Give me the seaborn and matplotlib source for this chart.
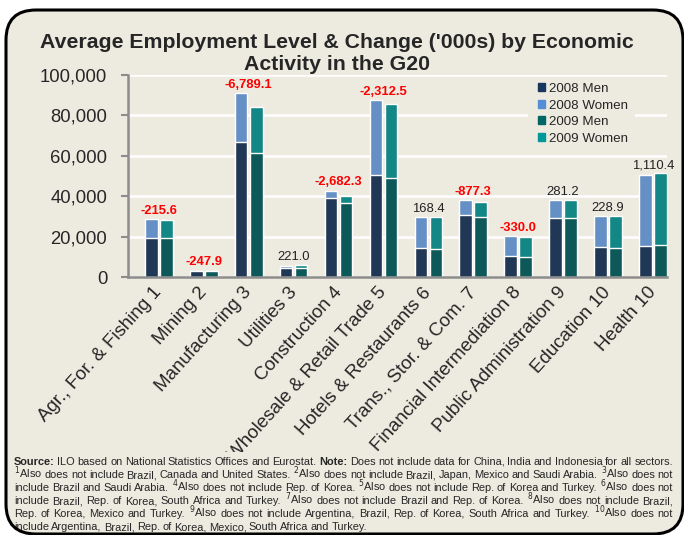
import pandas as pd
import seaborn as sns
import matplotlib.pyplot as plt
import matplotlib.transforms as mtrans
from matplotlib.patches import FancyBboxPatch, Rectangle, Patch

# employment in '000s
sectors = ["Agr., For. & Fishing 1", "Mining 2", "Manufacturing 3", "Utilities 3",
           "Construction 4", "Wholesale & Retail Trade 5", "Hotels & Restaurants 6",
           "Trans., Stor. & Com. 7", "Financial Intermediation 8",
           "Public Administration 9", "Education 10", "Health 10"]
men_2008 = [19300, 2950, 66600, 4700, 39200, 50400, 14200, 30600, 10300, 29100, 14700, 15200]
women_2008 = [9200, 250, 24300, 900, 3600, 37400, 15400, 7600, 10000, 8900, 15500, 35100]
men_2009 = [19300, 2750, 61500, 4700, 36700, 49100, 13900, 29800, 9900, 29100, 14600, 15600]
women_2009 = [9000, 200, 22600, 1100, 3400, 36400, 15900, 7500, 10100, 9200, 15800, 35800]
change = [-215.6, -247.9, -6789.1, 221.0, -2682.3, -2312.5, 168.4, -877.3, -330.0, 281.2, 228.9, 1110.4]
series = ["2008 Men", "2008 Women", "2009 Men", "2009 Women"]

footnote = [
    r"Source: ILO based on National Statistics Offices and Eurostat. Note: Does not include data for China, India and Indonesia for all sectors.",
    r"$^{1}$Also does not include Brazil, Canada and United States. $^{2}$Also does not include Brazil, Japan, Mexico and Saudi Arabia. $^{3}$Also does not",
    r"include Brazil and Saudi Arabia. $^{4}$Also does not include Rep. of Korea. $^{5}$Also does not include Rep. of Korea and Turkey. $^{6}$Also does not",
    r"include Brazil, Rep. of Korea, South Africa and Turkey. $^{7}$Also does not include Brazil and Rep. of Korea. $^{8}$Also does not include Brazil,",
    r"Rep. of Korea, Mexico and Turkey. $^{9}$Also does not include Argentina, Brazil, Rep. of Korea, South Africa and Turkey. $^{10}$Also does not",
    r"include Argentina, Brazil, Rep. of Korea, Mexico, South Africa and Turkey.",
]
bold_words = ["Source:", "Note:"]

bg = "#EDEAE0"
colors = ["#17375E", "#558ED5", "#006666", "#009999"]

sns.set_style("white")
plt.rcParams["font.family"] = ["Liberation Sans", "DejaVu Sans"]
plt.rcParams["mathtext.fontset"] = "custom"
plt.rcParams["mathtext.rm"] = "Liberation Sans Narrow"

rows = []
for i, s in enumerate(sectors):
    rows.append([s, "2008", men_2008[i], men_2008[i] + women_2008[i]])
    rows.append([s, "2009", men_2009[i], men_2009[i] + women_2009[i]])
df = pd.DataFrame(rows, columns=["sector", "year", "men", "total"])

W, H = 684, 535
fig = plt.figure(figsize=(W / 100, H / 100), dpi=100, facecolor="white")
fig.patches.append(FancyBboxPatch((0.06, 0.01), 6.77, 5.24,
                                  boxstyle="round,pad=0,rounding_size=0.3",
                                  transform=fig.dpi_scale_trans, facecolor=bg,
                                  edgecolor="none", zorder=-10))

ax = fig.add_axes([128 / W, 1 - 277 / H, 539 / W, 202 / H])
ax.set_facecolor("none")

sns.barplot(data=df, x="sector", y="total", hue="year", palette=[colors[1], colors[3]],
            order=sectors, width=0.67, gap=0.16, errorbar=None, legend=False, ax=ax)
sns.barplot(data=df, x="sector", y="men", hue="year", palette=[colors[0], colors[2]],
            order=sectors, width=0.67, gap=0.16, errorbar=None, legend=False, ax=ax)

for i, c in enumerate(change):
    top = max(men_2008[i] + women_2008[i], men_2009[i] + women_2009[i])
    neg = c < 0
    ax.annotate(f"{c:,.1f}", (i, top), xytext=(0, 1.5), textcoords="offset points",
                ha="center", va="bottom", fontsize=9.4,
                color="red" if neg else "#222222", fontweight="bold" if neg else "normal")

ax.set_ylim(0, 100000)
ax.set_xlim(-0.687, 11.313)
ax.set_yticks(range(0, 100001, 20000))
ax.set_yticklabels([f"{v:,}" for v in range(0, 100001, 20000)])
ax.set_xlabel("")
ax.set_ylabel("")
ax.yaxis.grid(True, color="white", lw=1.8)
ax.set_axisbelow(True)
sns.despine(ax=ax)
for side in ["left", "bottom"]:
    ax.spines[side].set_color("#8C8C8C")
    ax.spines[side].set_linewidth(1.8)
ax.tick_params(axis="y", length=5, width=1.5, color="#8C8C8C", pad=10, labelsize=13.3,
               left=True)
ax.tick_params(axis="x", length=0, pad=5)
shift = mtrans.ScaledTranslation(-0.06, 0, fig.dpi_scale_trans)
for lab in ax.get_xticklabels():
    lab.set(rotation=48, ha="right", rotation_mode="anchor", fontsize=13.5)
    lab.set_transform(lab.get_transform() + shift)

# legend sits on a beige patch that breaks the gridline
ax.add_patch(Rectangle((528 / W, 1 - 148 / H), 107 / W, 68 / H, transform=fig.transFigure,
                       facecolor=bg, edgecolor="none", zorder=1))
handles = [Patch(color=c, label=l) for c, l in zip(colors, series)]
ax.legend(handles=handles, loc="upper left", bbox_to_anchor=(538 / W, 1 - 83 / H),
          bbox_transform=fig.transFigure, frameon=False, fontsize=9.6,
          handlelength=0.55, handleheight=0.55, handletextpad=0.3,
          labelspacing=0.34, borderpad=0, borderaxespad=0)

fig.text(337 / W, 1 - 42 / H, "Average Employment Level & Change ('000s) by Economic",
         ha="center", va="center", fontsize=15.3, fontweight="bold")
fig.text(337 / W, 1 - 64 / H, "Activity in the G20",
         ha="center", va="center", fontsize=15.3, fontweight="bold")

# footnote, justified between x0 and x1
fig.patches.append(Rectangle((12 / W, 1 - 520 / H), 664 / W, 68 / H, transform=fig.transFigure,
                             facecolor=bg, edgecolor="none", zorder=1))
x0, x1, fs = 14, 673, 7.9
fn_font = ["Liberation Sans Narrow", "Liberation Sans"]
r = fig.canvas.get_renderer()
for k, line in enumerate(footnote):
    y = 1 - (465 + 13 * k) / H
    words = line.split(" ")
    texts = [fig.text(0, y, w, fontsize=fs, family=fn_font, va="baseline", zorder=3,
                      fontweight="bold" if w in bold_words else "normal") for w in words]
    widths = [t.get_window_extent(r).width for t in texts]
    if k == len(footnote) - 1:
        space = 2.3
    else:
        space = (x1 - x0 - sum(widths)) / (len(words) - 1)
    x = x0
    for t, w in zip(texts, widths):
        t.set_x(x / W)
        x += w + space

fig.patches.append(FancyBboxPatch((0.06, 0.01), 6.77, 5.24,
                                  boxstyle="round,pad=0,rounding_size=0.3",
                                  transform=fig.dpi_scale_trans, facecolor="none",
                                  edgecolor="black", lw=2.2, zorder=5))

fig.savefig("out.png", dpi=100, facecolor="white")
